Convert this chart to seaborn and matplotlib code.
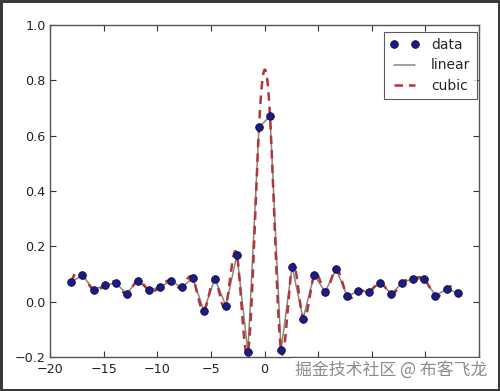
import numpy as np
import pandas as pd
import matplotlib
matplotlib.use("Agg")
import matplotlib.pyplot as plt
import seaborn as sns

# ---- data ----
x_data = [-18.000, -16.971, -15.943, -14.914, -13.886, -12.857, -11.829, -10.800,
          -9.771, -8.743, -7.714, -6.686, -5.657, -4.629, -3.600, -2.571,
          -1.543, -0.514, 0.514, 1.543, 2.571, 3.600, 4.629, 5.657,
          6.686, 7.714, 8.743, 9.771, 10.800, 11.829, 12.857, 13.886,
          14.914, 15.943, 16.971, 18.000]
y_data = [0.071, 0.096, 0.043, 0.059, 0.068, 0.029, 0.076, 0.041,
          0.053, 0.075, 0.052, 0.085, -0.032, 0.082, -0.014, 0.169,
          -0.182, 0.630, 0.671, -0.176, 0.127, -0.061, 0.096, 0.036,
          0.118, 0.019, 0.039, 0.036, 0.069, 0.028, 0.069, 0.083,
          0.081, 0.022, 0.045, 0.033]
series_labels = ["data", "linear", "cubic"]
x_ticks = [-20, -15, -10, -5, 0, 5, 10, 15, 20]
# labels right of 0 are hidden under the watermark in the reference
x_tick_labels = ["\u221220", "\u221215", "\u221210", "\u22125", "0", "", "", "", ""]
y_ticks = [-0.2, 0.0, 0.2, 0.4, 0.6, 0.8, 1.0]
y_tick_labels = ["\u22120.2", "0.0", "0.2", "0.4", "0.6", "0.8", "1.0"]
watermark = "掘金技术社区 @ 布客飞龙"


def not_a_knot_spline(xs, ys, xq):
    xs = np.asarray(xs, float)
    ys = np.asarray(ys, float)
    n = len(xs)
    h = np.diff(xs)
    A = np.zeros((n, n))
    b = np.zeros(n)
    A[0, 0] = h[1]
    A[0, 1] = -(h[0] + h[1])
    A[0, 2] = h[0]
    for i in range(1, n - 1):
        A[i, i - 1] = h[i - 1]
        A[i, i] = 2 * (h[i - 1] + h[i])
        A[i, i + 1] = h[i]
        b[i] = 6 * ((ys[i + 1] - ys[i]) / h[i] - (ys[i] - ys[i - 1]) / h[i - 1])
    A[n - 1, n - 3] = h[n - 2]
    A[n - 1, n - 2] = -(h[n - 3] + h[n - 2])
    A[n - 1, n - 1] = h[n - 3]
    M = np.linalg.solve(A, b)
    idx = np.clip(np.searchsorted(xs, xq) - 1, 0, n - 2)
    x0, x1 = xs[idx], xs[idx + 1]
    hh = x1 - x0
    return (M[idx] * (x1 - xq) ** 3 / (6 * hh) + M[idx + 1] * (xq - x0) ** 3 / (6 * hh)
            + (ys[idx] / hh - M[idx] * hh / 6) * (x1 - xq)
            + (ys[idx + 1] / hh - M[idx + 1] * hh / 6) * (xq - x0))


x_fine = np.linspace(min(x_data), max(x_data), 1000)
y_cubic = not_a_knot_spline(x_data, y_data, x_fine)

df_data = pd.DataFrame({"x": x_data, "y": y_data})
df_cubic = pd.DataFrame({"x": x_fine, "y": y_cubic})

sns.set_style("ticks")
plt.rcParams["font.family"] = ["DejaVu Sans"]

fig = plt.figure(figsize=(5.0, 3.91), dpi=100)
fig.patch.set_facecolor("white")
fig.patch.set_edgecolor("#3a3a3a")
fig.patch.set_linewidth(2.2)
ax = fig.add_axes([50 / 500, (391 - 357) / 391, 429 / 500, 332 / 391])

sns.lineplot(data=df_data, x="x", y="y", ax=ax, linestyle="none", marker="o",
             markersize=5.5, markerfacecolor="#1c1c86", markeredgecolor="#0a0a40",
             markeredgewidth=0.6, color="#1c1c86", label=series_labels[0],
             estimator=None, sort=False, zorder=3)
sns.lineplot(data=df_data, x="x", y="y", ax=ax, color="#86887c", linewidth=1.1,
             label=series_labels[1], estimator=None, sort=False, zorder=2)
sns.lineplot(data=df_cubic, x="x", y="y", ax=ax, color="#b3343a", linewidth=1.8,
             linestyle=(0, (3.4, 2.4)), label=series_labels[2],
             estimator=None, sort=False, zorder=2)

ax.set_xlim(-20, 20)
ax.set_ylim(-0.2, 1.0)
ax.set_xticks(x_ticks)
ax.set_yticks(y_ticks)
ax.set_xticklabels(x_tick_labels)
ax.set_yticklabels(y_tick_labels)
ax.set_xlabel("")
ax.set_ylabel("")
ax.tick_params(direction="in", length=4, width=0.8, top=True, right=True,
               labelsize=9.2, colors="#333333", labelcolor="#222222", pad=3)
ax.tick_params(axis="x", pad=4.5)
for s in ax.spines.values():
    s.set_color("#555555")
    s.set_linewidth(1.0)

leg = ax.legend(loc="upper right", bbox_to_anchor=(0.995, 0.979), borderaxespad=0,
                numpoints=2, fontsize=10, handlelength=2.1, handletextpad=0.85,
                labelspacing=0.45, frameon=True, fancybox=False, borderpad=0.45)
leg.get_frame().set_edgecolor("#333333")
leg.get_frame().set_linewidth(0.8)

fig.text(0.974, 0.055, watermark, ha="right", va="center", fontsize=12.2,
         family=["Noto Sans CJK SC", "DejaVu Sans"], color="#8c8c8c",
         bbox=dict(facecolor="white", edgecolor="none", pad=2), zorder=10)

fig.savefig("out.png", dpi=100, facecolor=fig.get_facecolor(),
            edgecolor=fig.get_edgecolor())
